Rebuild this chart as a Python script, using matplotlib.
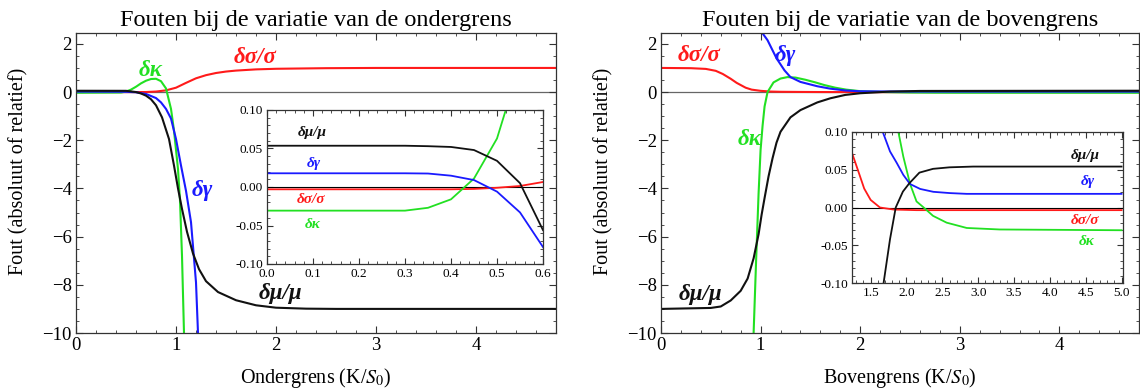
import matplotlib
matplotlib.use("Agg")
import matplotlib.pyplot as plt
from matplotlib.ticker import MultipleLocator, FormatStrFormatter

plt.rcParams['font.family'] = ['Liberation Serif', 'DejaVu Serif']
plt.rcParams['mathtext.fontset'] = 'stix'

RED, GREEN, BLUE, BLACK = '#ff1a1a', '#22e022', '#1a1aff', '#111111'

# ---- left panel: variatie van de ondergrens ----
lo_sig_x = [0, 0.5, 0.7, 0.8, 0.9, 1.0, 1.1, 1.2, 1.3, 1.4, 1.5, 1.6, 1.8, 2.0, 2.5, 3.0, 4.8]
lo_sig_y = [-0.003, -0.003, 0.0, 0.02, 0.07, 0.18, 0.38, 0.57, 0.70, 0.79, 0.85, 0.89, 0.94, 0.965, 0.99, 1.0, 1.0]
lo_kap_x = [0, 0.45, 0.5, 0.55, 0.6, 0.65, 0.7, 0.75, 0.8, 0.85, 0.9, 0.95, 0.98, 1.0, 1.02, 1.04, 1.06, 1.08, 1.1]
lo_kap_y = [-0.03, -0.02, 0.02, 0.1, 0.22, 0.36, 0.47, 0.54, 0.55, 0.45, 0.15, -0.7, -1.6, -2.4, -3.2, -4.5, -6.8, -10, -13]
lo_gam_x = [0, 0.5, 0.6, 0.7, 0.8, 0.85, 0.9, 0.95, 1.0, 1.05, 1.1, 1.15, 1.2, 1.22, 1.25]
lo_gam_y = [0.018, 0.01, -0.01, -0.08, -0.25, -0.43, -0.7, -1.1, -1.95, -3.05, -4.1, -5.4, -7.9, -10, -13]
lo_mu_x = [0, 0.5, 0.6, 0.65, 0.7, 0.75, 0.8, 0.86, 0.93, 0.98, 1.02, 1.06, 1.11, 1.17, 1.23, 1.3, 1.42, 1.6, 1.8, 2.0, 2.3, 2.6, 3.0, 4.8]
lo_mu_y = [0.053, 0.05, 0.0, -0.06, -0.15, -0.3, -0.55, -1.05, -1.95, -3.05, -4.0, -4.85, -5.8, -6.7, -7.35, -7.85, -8.3, -8.64, -8.85, -8.95, -8.99, -9.0, -9.0, -9.0]

# inset links
li_x = [0, 0.05, 0.1, 0.15, 0.2, 0.25, 0.3, 0.35, 0.4, 0.45, 0.5, 0.55, 0.6]
li_mu = [0.0536, 0.0536, 0.0536, 0.0536, 0.0536, 0.0536, 0.0536, 0.053, 0.052, 0.048, 0.034, 0.005, -0.056]
li_gam = [0.0178, 0.0178, 0.0178, 0.0178, 0.0178, 0.0178, 0.0178, 0.0175, 0.0147, 0.009, -0.006, -0.033, -0.078]
li_sig = [-0.003, -0.003, -0.003, -0.003, -0.003, -0.003, -0.003, -0.003, -0.003, -0.0025, -0.001, 0.0013, 0.0065]
li_kap = [-0.0307, -0.0307, -0.0307, -0.0307, -0.0307, -0.0307, -0.0307, -0.027, -0.016, 0.011, 0.063, 0.16, 0.3]

# ---- right panel: variatie van de bovengrens ----
hi_sig_x = [0, 0.3, 0.45, 0.55, 0.62, 0.7, 0.76, 0.85, 0.91, 1.0, 1.1, 1.2, 1.4, 1.6, 2.0, 4.8]
hi_sig_y = [1.0, 0.99, 0.96, 0.88, 0.75, 0.55, 0.38, 0.18, 0.1, 0.05, 0.02, 0.01, 0.004, 0.0, -0.004, -0.004]
hi_gam_x = [0.97, 1.0, 1.07, 1.16, 1.24, 1.3, 1.4, 1.57, 1.7, 1.85, 2.0, 2.3, 2.6, 3.0, 4.8]
hi_gam_y = [3.0, 2.55, 2.15, 1.4, 0.9, 0.62, 0.42, 0.24, 0.14, 0.065, 0.032, 0.022, 0.019, 0.018, 0.018]
hi_kap_x = [0.9, 0.93, 0.955, 0.98, 1.0, 1.02, 1.04, 1.07, 1.13, 1.2, 1.27, 1.35, 1.45, 1.55, 1.64, 1.75, 1.86, 2.0, 2.24, 2.5, 2.75, 3.0, 4.8]
hi_kap_y = [-14, -10, -7.0, -4.2, -2.4, -1.4, -0.6, 0.0, 0.4, 0.56, 0.62, 0.6, 0.51, 0.4, 0.29, 0.18, 0.1, 0.036, 0.0, -0.02, -0.027, -0.029, -0.03]
hi_mu_x = [0, 0.5, 0.6, 0.7, 0.8, 0.87, 0.93, 0.98, 1.01, 1.04, 1.08, 1.12, 1.16, 1.2, 1.3, 1.4, 1.57, 1.7, 1.85, 2.0, 2.3, 2.6, 4.8]
hi_mu_y = [-9.0, -8.96, -8.9, -8.65, -8.25, -7.74, -6.9, -5.9, -5.1, -4.4, -3.5, -2.75, -2.1, -1.65, -1.05, -0.75, -0.43, -0.26, -0.12, -0.05, 0.02, 0.045, 0.054]

# inset rechts
ri_mu_x = [1.65, 1.68, 1.77, 1.85, 1.95, 2.04, 2.18, 2.37, 2.6, 2.93, 5.0]
ri_mu_y = [-0.12, -0.1, -0.042, 0.0, 0.021, 0.032, 0.046, 0.051, 0.053, 0.054, 0.054]
ri_gam_x = [1.64, 1.668, 1.77, 1.863, 1.956, 2.049, 2.19, 2.374, 2.607, 2.84, 5.0]
ri_gam_y = [0.11, 0.1, 0.074, 0.059, 0.043, 0.031, 0.0245, 0.0207, 0.019, 0.018, 0.018]
ri_kap_x = [1.87, 1.886, 1.956, 2.05, 2.14, 2.24, 2.37, 2.56, 2.84, 3.3, 5.0]
ri_kap_y = [0.11, 0.1, 0.067, 0.031, 0.008, 0.0, -0.011, -0.02, -0.027, -0.029, -0.030]
ri_sig_x = [1.24, 1.32, 1.41, 1.5, 1.63, 1.82, 2.14, 5.0]
ri_sig_y = [0.072, 0.05, 0.025, 0.01, 0.0, -0.0027, -0.0035, -0.0035]

LW = 1.5
W, H = 1140, 392


def frame(ax, major_len=5, minor_len=2.5, size=13.5):
    for s in ax.spines.values():
        s.set_color('#333333')
        s.set_linewidth(0.9)
    ax.tick_params(which='both', direction='in', top=True, right=True,
                   color='#333333', labelsize=size, pad=3)
    ax.tick_params(which='major', length=major_len, width=0.8)
    ax.tick_params(which='minor', length=minor_len, width=0.6)


def fig_axes(fig, x0, y0, x1, y1):
    return fig.add_axes([x0 / W, 1 - y1 / H, (x1 - x0) / W, (y1 - y0) / H])


def label(ax, x, y, s, c, size):
    ax.text(x, y, s, color=c, fontsize=size, fontweight='bold', fontstyle='italic',
            ha='center', va='center')


fig = plt.figure(figsize=(W / 100, H / 100), dpi=100)

panels = [
    (76, 556, 'Fouten bij de variatie van de ondergrens', r'Ondergrens (K/$S_0$)',
     [(lo_sig_x, lo_sig_y, RED), (lo_kap_x, lo_kap_y, GREEN),
      (lo_gam_x, lo_gam_y, BLUE), (lo_mu_x, lo_mu_y, BLACK)],
     [(0.75, 0.91, 'δκ', GREEN), (1.79, 1.42, 'δσ/σ', RED),
      (1.26, -4.1, 'δγ', BLUE), (2.04, -8.34, 'δμ/μ', BLACK)]),
    (661, 1139, 'Fouten bij de variatie van de bovengrens', r'Bovengrens (K/$S_0$)',
     [(hi_sig_x, hi_sig_y, RED), (hi_kap_x, hi_kap_y, GREEN),
      (hi_gam_x, hi_gam_y, BLUE), (hi_mu_x, hi_mu_y, BLACK)],
     [(0.38, 1.52, 'δσ/σ', RED), (1.25, 1.52, 'δγ', BLUE),
      (0.89, -1.99, 'δκ', GREEN), (0.40, -8.4, 'δμ/μ', BLACK)]),
]

for x0, x1, title, xlabel, curves, labels in panels:
    ax = fig_axes(fig, x0, 33, x1, 333)
    ax.axhline(0, color='#666666', lw=0.9, zorder=1)
    for xs, ys, c in curves:
        ax.plot(xs, ys, color=c, lw=LW)
    ax.set_xlim(0, 4.8)
    ax.set_ylim(-10, 2.45)
    ax.xaxis.set_major_locator(MultipleLocator(1))
    ax.xaxis.set_minor_locator(MultipleLocator(0.2))
    ax.yaxis.set_major_locator(MultipleLocator(2))
    ax.yaxis.set_minor_locator(MultipleLocator(0.5))
    frame(ax)
    ax.set_title(title, fontsize=17.5, pad=5)
    ax.set_xlabel(xlabel, fontsize=14.5)
    ax.xaxis.set_label_coords(0.5, -0.11)
    ax.set_ylabel('Fout (absoluut of relatief)', fontsize=14.5)
    ax.yaxis.set_label_coords(-48 / 480, 0.54)
    for lx, ly, s, c in labels:
        label(ax, lx, ly, s, c, 16.5)

# inset links
ia = fig_axes(fig, 267, 110, 543, 264)
ia.set_facecolor('white')
ia.axhline(0, color='black', lw=0.8)
ia.plot(li_x, li_sig, color=RED, lw=1.3)
ia.plot(li_x, li_kap, color=GREEN, lw=1.3)
ia.plot(li_x, li_gam, color=BLUE, lw=1.3)
ia.plot(li_x, li_mu, color=BLACK, lw=1.3)
ia.set_xlim(0, 0.6)
ia.set_ylim(-0.1, 0.1)
ia.xaxis.set_major_locator(MultipleLocator(0.1))
ia.xaxis.set_minor_locator(MultipleLocator(0.02))
ia.yaxis.set_major_locator(MultipleLocator(0.05))
ia.yaxis.set_minor_locator(MultipleLocator(0.01))
ia.xaxis.set_major_formatter(FormatStrFormatter('%.1f'))
ia.yaxis.set_major_formatter(FormatStrFormatter('%.2f'))
frame(ia, 4, 2, 9.5)
label(ia, 0.098, 0.0708, 'δμ/μ', BLACK, 11)
label(ia, 0.101, 0.031, 'δγ', BLUE, 11)
label(ia, 0.096, -0.0156, 'δσ/σ', RED, 11)
label(ia, 0.099, -0.049, 'δκ', GREEN, 11)

# inset rechts
ib = fig_axes(fig, 852, 131.7, 1123, 283.3)
ib.set_facecolor('white')
ib.axhline(0, color='black', lw=0.8)
ib.plot(ri_sig_x, ri_sig_y, color=RED, lw=1.3)
ib.plot(ri_kap_x, ri_kap_y, color=GREEN, lw=1.3)
ib.plot(ri_gam_x, ri_gam_y, color=BLUE, lw=1.3)
ib.plot(ri_mu_x, ri_mu_y, color=BLACK, lw=1.3)
ib.set_xlim(1.24, 5.02)
ib.set_ylim(-0.1, 0.1)
ib.xaxis.set_major_locator(MultipleLocator(0.5))
ib.xaxis.set_minor_locator(MultipleLocator(0.1))
ib.yaxis.set_major_locator(MultipleLocator(0.05))
ib.yaxis.set_minor_locator(MultipleLocator(0.01))
ib.xaxis.set_major_formatter(FormatStrFormatter('%.1f'))
ib.yaxis.set_major_formatter(FormatStrFormatter('%.2f'))
frame(ib, 4, 2, 9.5)
label(ib, 4.49, 0.069, 'δμ/μ', BLACK, 11)
label(ib, 4.525, 0.034, 'δγ', BLUE, 11)
label(ib, 4.49, -0.0175, 'δσ/σ', RED, 11)
label(ib, 4.51, -0.045, 'δκ', GREEN, 11)

fig.savefig('out.png', dpi=100)
